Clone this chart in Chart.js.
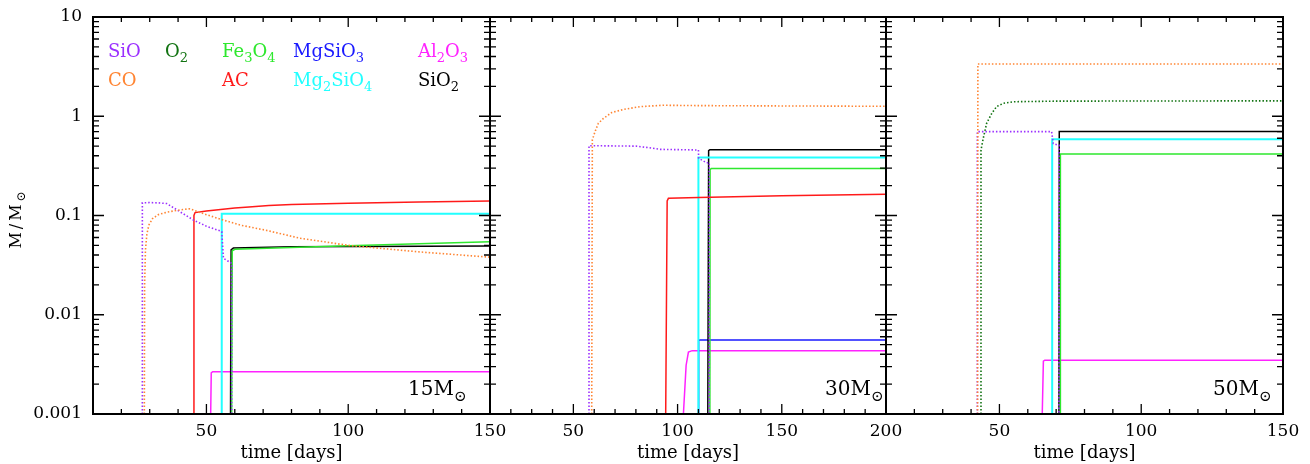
<!DOCTYPE html>
<html>
<head>
<meta charset="utf-8">
<script src="https://cdn.jsdelivr.net/npm/chart.js@4.4.1/dist/chart.umd.min.js"></script>
<style>
body{margin:0;background:#fff;width:1310px;height:464px;position:relative;overflow:hidden;font-family:'DejaVu Serif',serif}
canvas{position:absolute;left:0;top:0}
.lab{position:absolute;font-size:18px;line-height:18px;white-space:nowrap}
.lab sub{font-size:13px;vertical-align:-5px;line-height:0}
.mass{position:absolute;font-size:20px;line-height:20px;white-space:nowrap;color:#000}
.mass sub{font-size:15px;vertical-align:-6px;line-height:0}
#ytitle{position:absolute;left:-24px;top:210px;width:80px;height:20px;line-height:20px;font-size:16px;letter-spacing:3px;text-align:center;transform:rotate(-90deg);white-space:nowrap}
#ytitle sub{font-size:12px;vertical-align:-4px;line-height:0;letter-spacing:0}
</style>
</head>
<body>
<canvas id="c15" width="1310" height="464"></canvas>
<canvas id="c30" width="1310" height="464"></canvas>
<canvas id="c50" width="1310" height="464"></canvas>

<div class="lab" style="left:108px;top:42px;color:#9b30ff">SiO</div>
<div class="lab" style="left:165px;top:42px;color:#127312">O<sub>2</sub></div>
<div class="lab" style="left:222px;top:42px;color:#2ee82e">Fe<sub>3</sub>O<sub>4</sub></div>
<div class="lab" style="left:293px;top:42px;color:#1a1aff">MgSiO<sub>3</sub></div>
<div class="lab" style="left:418px;top:42px;color:#ff22ff">Al<sub>2</sub>O<sub>3</sub></div>
<div class="lab" style="left:108px;top:71px;color:#ff8533">CO</div>
<div class="lab" style="left:222px;top:71px;color:#ff1a1a">AC</div>
<div class="lab" style="left:293px;top:71px;color:#22ffff">Mg<sub>2</sub>SiO<sub>4</sub></div>
<div class="lab" style="left:418px;top:71px;color:#000">SiO<sub>2</sub></div>

<div class="mass" style="left:408px;top:378px">15M<sub>⊙</sub></div>
<div class="mass" style="left:825px;top:378px">30M<sub>⊙</sub></div>
<div class="mass" style="left:1213px;top:378px">50M<sub>⊙</sub></div>
<div id="ytitle">M/M<sub>⊙</sub></div>

<script>
// [time in days, mass in Msun]
// 15 Msun
var sio15=[[27.4,0.001],[27.4,0.134],[30,0.135],[33,0.134],[36,0.132],[40.7,0.109],[45.4,0.09],[50,0.078],[55.4,0.069],[56,0.037],[58.9,0.033],[58.9,0.001]]
var co15=[[28.1,0.001],[28.2,0.02],[28.5,0.045],[29,0.065],[29.7,0.08],[31,0.093],[33,0.102],[36,0.108],[40,0.113],[44,0.117],[50,0.102],[55.9,0.09],[62,0.08],[71,0.071],[83,0.059],[100,0.05],[125,0.043],[150,0.038]]
var ac15=[[45.6,0.001],[45.6,0.1],[46,0.107],[50,0.111],[55,0.115],[60,0.119],[65,0.122],[72,0.126],[80,0.129],[100,0.133],[125,0.137],[150,0.14]]
var mg2sio4_15=[[55.4,0.001],[55.4,0.104],[150,0.104]]
var fe3o4_15=[[58.9,0.001],[59.1,0.044],[60,0.0457],[100,0.0495],[150,0.0545]]
var sio2_15=[[58.5,0.001],[58.7,0.045],[59.5,0.047],[80,0.0485],[150,0.0493]]
var al2o3_15=[[51.5,0.001],[51.7,0.0026],[52.2,0.00267],[150,0.00267]]

// 30 Msun
var sio30=[[57.5,0.001],[57.5,0.505],[80,0.5],[85,0.486],[91.6,0.464],[110,0.457],[110.1,0.377],[113.9,0.34],[115.2,0.34],[115.2,0.001]]
var co30=[[58.8,0.001],[59.1,0.577],[60.4,0.7],[62,0.85],[64.4,0.95],[68.4,1.09],[74,1.17],[82,1.25],[93,1.29],[110,1.28],[150,1.27],[200,1.26]]
var ac30=[[94.3,0.001],[95,0.14],[95.6,0.149],[110,0.152],[150,0.158],[200,0.164]]
var mg2sio4_30=[[110,0.001],[110,0.383],[200,0.383]]
var sio2_30=[[114.5,0.001],[114.9,0.45],[115.5,0.46],[200,0.46]]
var fe3o4_30=[[115.5,0.001],[115.6,0.29],[116.2,0.298],[200,0.298]]
var mgsio3_30=[[110,0.001],[110.1,0.0055],[110.6,0.00557],[200,0.00557]]
var al2o3_30=[[102.8,0.001],[104.1,0.0031],[105.2,0.0042],[107,0.00435],[200,0.00435]]

// 50 Msun
var co50=[[42.3,0.001],[42.4,3.36],[150,3.36]]
var o2_50=[[43.5,0.001],[43.5,0.457],[44.3,0.6],[45.5,0.85],[47.3,1.07],[49,1.25],[51.4,1.35],[54.9,1.4],[70,1.42],[150,1.43]]
var sio50=[[42.2,0.001],[42.2,0.7],[68.4,0.7],[69,0.53],[70.7,0.51],[71,0.51],[71,0.001]]
var sio2_50=[[71,0.001],[71.1,0.7],[150,0.7]]
var mg2sio4_50=[[68.6,0.001],[68.6,0.586],[150,0.586]]
var fe3o4_50=[[71.4,0.001],[71.5,0.416],[150,0.416]]
var al2o3_50=[[65.1,0.001],[65.5,0.0034],[66,0.00348],[150,0.00348]]

var yTicks=[0.001,0.01,0.1,1,10]
var xTicks15=[50,100,150]
var xTicks30=[50,100,150,200]
var xTicks50=[50,100,150]

var colors={SiO:'#9b30ff',O2:'#127312',Fe3O4:'#2ee82e',MgSiO3:'#1a1aff',Al2O3:'#ff22ff',CO:'#ff8533',AC:'#ff1a1a',Mg2SiO4:'#22ffff',SiO2:'#000000'}
var dotted=['SiO','CO','O2']

Chart.defaults.font.family="'DejaVu Serif', serif"
Chart.defaults.color='#000'

const makeSet=function(name,pts){
	var isDot=dotted.includes(name)
	return {
		label:name,
		data:pts.map(p=>({x:p[0],y:p[1]})),
		borderColor:colors[name],
		borderWidth:isDot?1.6:(name=='Mg2SiO4'?2:1.5),
		borderDash:isDot?[1.5,2]:[],
		pointRadius:0,
		tension:0,
		fill:false
	}
}

// inward ticks on all four sides plus the box
const framePlugin={
	id:'frame',
	afterDatasetsDraw(chart){
		var ctx=chart.ctx, a=chart.chartArea, xs=chart.scales.x, ys=chart.scales.y
		ctx.save()
		ctx.strokeStyle='#000'
		ctx.lineWidth=1.3
		ctx.beginPath()
		for (var v=xs.min; v<=xs.max; v+=10){
			var px=xs.getPixelForValue(v)
			var len=(v%50==0)?10:5
			ctx.moveTo(px,a.bottom); ctx.lineTo(px,a.bottom-len)
			ctx.moveTo(px,a.top); ctx.lineTo(px,a.top+len)
		}
		for (var d=-3; d<1; d++){
			for (var k=1; k<10; k++){
				var py=ys.getPixelForValue(k*Math.pow(10,d))
				var l=(k==1)?11:6
				ctx.moveTo(a.left,py); ctx.lineTo(a.left+l,py)
				ctx.moveTo(a.right,py); ctx.lineTo(a.right-l,py)
			}
		}
		ctx.stroke()
		ctx.lineWidth=2
		ctx.strokeRect(a.left,a.top,a.right-a.left,a.bottom-a.top)
		ctx.restore()
	}
}

const makePanel=function(id,sets,xmax,xTicks,left,right,showY){
	return new Chart(document.getElementById(id),{
		type:'line',
		data:{datasets:sets},
		options:{
			responsive:false,
			animation:false,
			devicePixelRatio:1,
			layout:{padding:{left:showY?0:left,right:1310-right,top:17,bottom:0}},
			plugins:{legend:{display:false},tooltip:{enabled:false}},
			scales:{
				x:{
					type:'linear',min:10,max:xmax,
					grid:{display:false,drawTicks:false},
					border:{display:false},
					afterBuildTicks:function(s){ s.ticks=xTicks.map(v=>({value:v})) },
					afterFit:function(s){ s.height=50; s.paddingLeft=0; s.paddingRight=0 },
					ticks:{font:{size:17},padding:7,maxRotation:0,autoSkip:false},
					title:{display:true,text:'time [days]',font:{size:18},padding:{top:0,bottom:0}}
				},
				y:{
					type:'logarithmic',min:0.001,max:10,
					display:showY,
					grid:{display:false,drawTicks:false},
					border:{display:false},
					afterBuildTicks:function(s){ s.ticks=yTicks.map(v=>({value:v})) },
					afterFit:function(s){ s.width=showY?left:0; s.paddingTop=0; s.paddingBottom=0 },
					ticks:{font:{size:17},padding:11,callback:function(v){ return String(v) }}
				}
			}
		},
		plugins:[framePlugin]
	})
}

makePanel('c15',[
	makeSet('CO',co15),makeSet('SiO',sio15),makeSet('AC',ac15),makeSet('Mg2SiO4',mg2sio4_15),
	makeSet('Fe3O4',fe3o4_15),makeSet('SiO2',sio2_15),makeSet('Al2O3',al2o3_15)
],150,xTicks15,93,490,true)

makePanel('c30',[
	makeSet('CO',co30),makeSet('SiO',sio30),makeSet('AC',ac30),makeSet('Mg2SiO4',mg2sio4_30),
	makeSet('Fe3O4',fe3o4_30),makeSet('SiO2',sio2_30),makeSet('MgSiO3',mgsio3_30),makeSet('Al2O3',al2o3_30)
],200,xTicks30,490,886,false)

makePanel('c50',[
	makeSet('CO',co50),makeSet('O2',o2_50),makeSet('SiO',sio50),makeSet('Mg2SiO4',mg2sio4_50),
	makeSet('Fe3O4',fe3o4_50),makeSet('SiO2',sio2_50),makeSet('Al2O3',al2o3_50)
],150,xTicks50,886,1283,false)
</script>
</body>
</html>
